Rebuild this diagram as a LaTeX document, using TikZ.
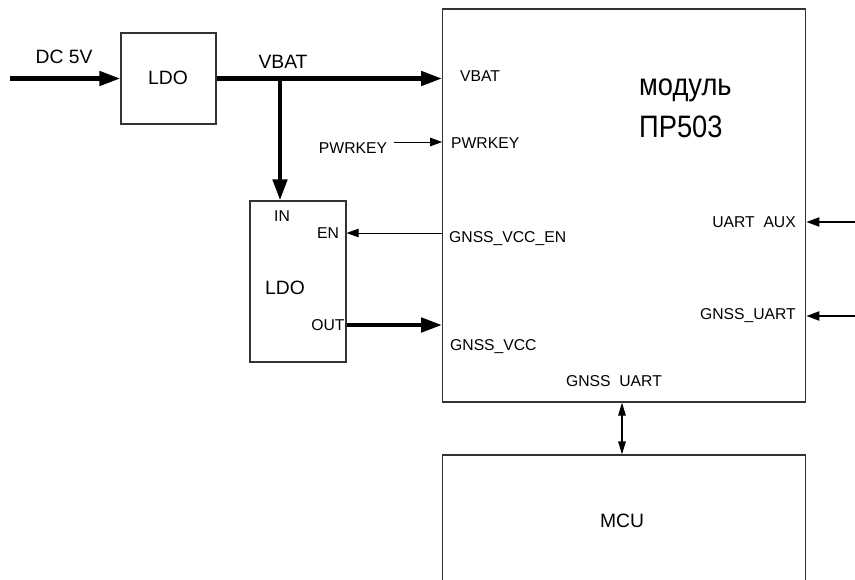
\documentclass[tikz,border=0pt]{standalone}
\usepackage{fontspec}
\setmainfont{Liberation Sans}
\usetikzlibrary{arrows.meta}
\begin{document}
\begin{tikzpicture}[x=1pt,y=-1pt,
  box/.style={draw=black!80, line width=1.2pt, inner sep=0pt},
  thickarr/.style={line width=4.5pt, -{Triangle[length=21pt,width=14pt]}},
  thinarr/.style={line width=1pt, -{Triangle[length=12pt,width=8.5pt]}},
  medarr/.style={line width=2pt, -{Triangle[length=13pt,width=9pt]}},
  lbl/.style={font=\fontsize{15.7}{18}\selectfont, inner sep=0pt},
  big/.style={font=\fontsize{19.3}{22}\selectfont, inner sep=0pt}]
\useasboundingbox (0,0) rectangle (855,579);

% boxes
\node[box, minimum width=363pt, minimum height=393pt] (mod) at (624.25,205.5) {};
\node[box, minimum width=363pt, minimum height=160pt] (mcu) at (624.25,535) {};
\node[box, minimum width=95pt, minimum height=91pt] (ldo1) at (168.5,78.5) {};
\node[box, minimum width=96pt, minimum height=161pt] (ldo2) at (298,281.5) {};

% labels
\node[big] (dc) at (64,57) {DC 5V};
\node[big] (ldo1t) at (168,78) {LDO};
\node[big] (vbat) at (283,62) {VBAT};
\node[lbl, anchor=west] (vbatin) at (460,76) {VBAT};
\node[lbl] (pkout) at (353,148) {PWRKEY};
\node[lbl, anchor=west] (pkin) at (451,143) {PWRKEY};
\node[lbl] (in) at (282,216) {IN};
\node[lbl] (en) at (328,233) {EN};
\node[big] (ldo2t) at (285,288) {LDO};
\node[lbl] (out) at (328,325) {OUT};
\node[lbl, anchor=west] (vccen) at (449,239) {GNSS\_VCC\_EN};
\node[lbl, anchor=west] (vcc) at (450,347) {GNSS\_VCC};
\node[lbl, anchor=east] (uaux) at (796,222) {UART\ \ AUX};
\node[lbl, anchor=east] (guart) at (796,316) {GNSS\_UART};
\node[lbl] (guart2) at (614,381) {GNSS\ \ UART};
\node[big] (mcut) at (622,521) {MCU};
\node[anchor=west, inner sep=0pt] (modt1) at (639,90) {\scalebox{0.88}[1]{\fontsize{31}{34}\selectfont модуль}};
\node[anchor=west, inner sep=0pt] (modt2) at (639,127) {\scalebox{0.88}[1]{\fontsize{31}{34}\selectfont ПР503}};

% connectors
\coordinate (dcin) at (10,78.5);
\draw[thickarr] (dcin) -- (ldo1.west);
\draw[thickarr] (ldo1.east) -- (mod.west |- ldo1.east);
\coordinate (br) at (280,78.5);
\draw[thickarr] (br) -- (br |- ldo2.north);
\coordinate (pk) at (394,142);
\draw[thinarr] (pk) -- (mod.west |- pk);
\draw[thinarr] (mod.west |- en) -- (ldo2.east |- en);
\draw[thickarr] (ldo2.east |- out) -- (mod.west |- out);
\coordinate (ua) at (855,222);
\draw[medarr] (ua) -- (mod.east |- ua);
\coordinate (gu) at (855,316);
\draw[medarr] (gu) -- (mod.east |- gu);
\coordinate (bus) at (622,0);
\draw[line width=1.2pt, {Triangle[length=13pt,width=7.5pt]}-{Triangle[length=13pt,width=7.5pt]}] (mod.south -| bus) -- (mcu.north -| bus);
\end{tikzpicture}
\end{document}
